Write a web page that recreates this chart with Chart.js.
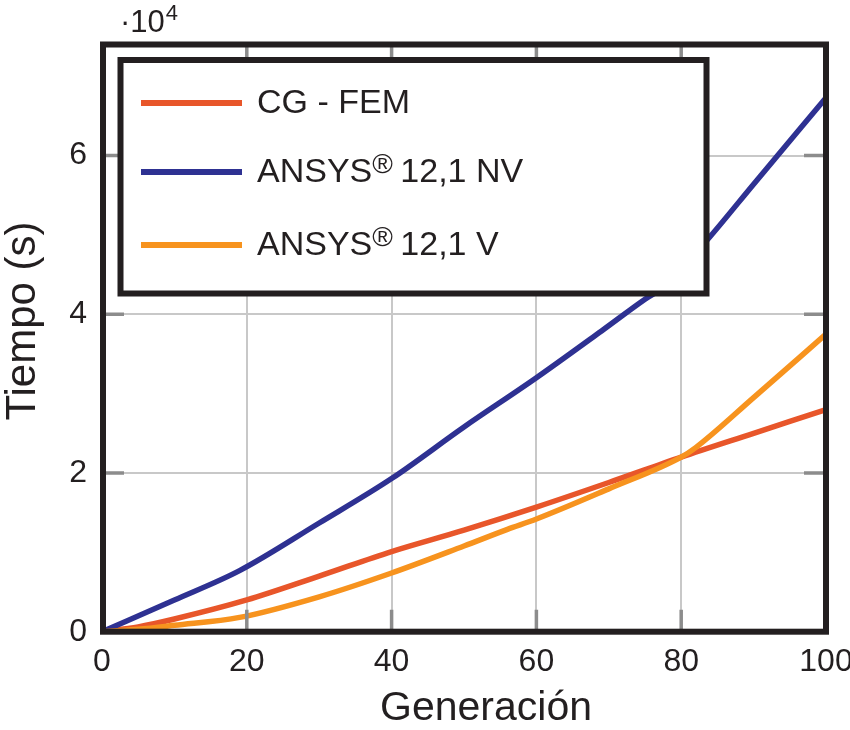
<!DOCTYPE html>
<html>
<head>
<meta charset="utf-8">
<script src="https://cdn.jsdelivr.net/npm/chart.js@4"></script>
<style>
  html, body { margin: 0; padding: 0; background: #ffffff; }
  #wrap { width: 850px; height: 730px; }
</style>
</head>
<body>
<div id="wrap"><canvas id="c" width="850" height="730"></canvas></div>
<script>
// ---- data (tiempo in units of 10^4 s) ----
const seriesLabels = ['CG - FEM', 'ANSYS® 12,1 NV', 'ANSYS® 12,1 V'];
const seriesColors = ['#e8562a', '#2e3192', '#f7931e'];
const genCG   = [0, 5, 10, 20, 30, 40, 50, 60, 70, 80, 90, 100];
const tiempoCG = [0, 0.06, 0.16, 0.40, 0.70, 1.01, 1.28, 1.57, 1.88, 2.20, 2.50, 2.80];
const genNV   = [0, 10, 19, 30, 40, 50, 60, 69, 75, 78, 84, 90, 100];
const tiempoNV = [0, 0.40, 0.77, 1.37, 1.93, 2.58, 3.20, 3.79, 4.19, 4.37, 4.98, 5.64, 6.73];
const genV    = [0, 5, 10, 19, 30, 40, 50, 56, 60, 70, 80, 82, 90, 100];
const tiempoV  = [0, 0.03, 0.08, 0.18, 0.44, 0.74, 1.08, 1.29, 1.42, 1.80, 2.20, 2.32, 2.95, 3.75];
const xTicks = [0, 20, 40, 60, 80, 100];
const yTicks = [0, 2, 4, 6];
const xTitle = 'Generación';
const yTitle = 'Tiempo (s)';

const FONT = "'Liberation Sans', Arial, Helvetica, sans-serif";
const INK = '#231f20';

function pts(xs, ys) { return xs.map((x, i) => ({ x: x, y: ys[i] })); }

const framePlugin = {
  id: 'frameAndLegend',
  afterDatasetsDraw(chart) {
    const ctx = chart.ctx;
    const a = chart.chartArea;
    const xs = chart.scales.x, ys = chart.scales.y;
    ctx.save();
    // inner tick marks
    ctx.strokeStyle = '#8c8c8c';
    ctx.lineWidth = 3.5;
    ctx.beginPath();
    xTicks.forEach(v => {
      if (v === xs.min || v === xs.max) return;
      const px = xs.getPixelForValue(v);
      ctx.moveTo(px, a.bottom); ctx.lineTo(px, a.bottom - 22);
      ctx.moveTo(px, a.top); ctx.lineTo(px, a.top + 22);
    });
    yTicks.forEach(v => {
      if (v === ys.min) return;
      const py = ys.getPixelForValue(v);
      ctx.moveTo(a.left, py); ctx.lineTo(a.left + 22, py);
      ctx.moveTo(a.right, py); ctx.lineTo(a.right - 22, py);
    });
    ctx.stroke();
    // frame
    ctx.strokeStyle = INK;
    ctx.lineWidth = 6;
    ctx.strokeRect(a.left + 1, a.top, a.right - a.left - 1, a.bottom - a.top);

    // axis titles
    ctx.fillStyle = INK;
    ctx.textBaseline = 'alphabetic';
    ctx.textAlign = 'center';
    ctx.font = '41px ' + FONT;
    ctx.fillText(xTitle, 486, 720);
    ctx.save();
    ctx.translate(35, 321);
    ctx.rotate(-Math.PI / 2);
    ctx.font = '42px ' + FONT;
    ctx.fillText(yTitle, 0, 0);
    ctx.restore();

    // legend box
    const lx = 120.5, ly = 60, lw = 586, lh = 233.5;
    ctx.fillStyle = '#ffffff';
    ctx.fillRect(lx, ly, lw, lh);
    ctx.strokeStyle = INK;
    ctx.lineWidth = 6;
    ctx.strokeRect(lx, ly, lw, lh);
    const rowY = [103, 172, 245];
    chart.data.datasets.forEach((ds, i) => {
      const y = rowY[i];
      ctx.strokeStyle = ds.borderColor;
      ctx.lineWidth = 6;
      ctx.beginPath();
      ctx.moveTo(141, y); ctx.lineTo(242, y);
      ctx.stroke();
      ctx.fillStyle = INK;
      ctx.textBaseline = 'alphabetic';
      ctx.textAlign = 'left';
      const base = y + 10;
      const label = ds.label;
      const idx = label.indexOf('®');
      ctx.font = '34px ' + FONT;
      if (idx < 0) {
        ctx.fillText(label, 257, base);
      } else {
        const pre = label.slice(0, idx);
        const post = label.slice(idx + 1);
        ctx.fillText(pre, 257, base);
        let x = 257 + ctx.measureText(pre).width;
        ctx.font = '28px ' + FONT;
        ctx.fillText('®', x, base - 9);
        x += ctx.measureText('®').width - 2;
        ctx.font = '34px ' + FONT;
        ctx.fillText(post, x, base);
      }
    });

    // exponent label
    ctx.fillStyle = INK;
    ctx.textAlign = 'left';
    ctx.textBaseline = 'alphabetic';
    ctx.font = '31px ' + FONT;
    ctx.fillText('·10', 120, 32);
    const w = ctx.measureText('·10').width;
    ctx.font = '22px ' + FONT;
    ctx.fillText('4', 120 + w + 1, 20);
    ctx.restore();
  }
};

new Chart(document.getElementById('c'), {
  type: 'line',
  data: {
    datasets: [
      { label: seriesLabels[0], data: pts(genCG, tiempoCG), borderColor: seriesColors[0], order: 3 },
      { label: seriesLabels[1], data: pts(genNV, tiempoNV), borderColor: seriesColors[1], order: 2 },
      { label: seriesLabels[2], data: pts(genV, tiempoV), borderColor: seriesColors[2], order: 1 }
    ]
  },
  options: {
    responsive: false,
    animation: false,
    devicePixelRatio: 1,
    layout: { padding: { left: 0, right: 24, top: 44.5, bottom: 0 } },
    elements: {
      line: { borderWidth: 5.5, cubicInterpolationMode: 'monotone', fill: false, borderCapStyle: 'round', borderJoinStyle: 'round' },
      point: { radius: 0, hoverRadius: 0 }
    },
    plugins: { legend: { display: false }, tooltip: { enabled: false } },
    scales: {
      x: {
        type: 'linear', min: 0, max: 100,
        afterFit(s) { s.height = 98.3; s.paddingRight = 0; s.paddingLeft = 0; },
        afterBuildTicks(s) { s.ticks = xTicks.map(v => ({ value: v })); },
        grid: { color: '#c8c8c8', lineWidth: 2, drawTicks: false },
        border: { display: false },
        ticks: { color: INK, font: { family: FONT, size: 32 }, padding: 11, maxRotation: 0, autoSkip: false },
        title: { display: false, text: xTitle }
      },
      y: {
        type: 'linear', min: 0, max: 7.4,
        afterFit(s) { s.width = 102; s.paddingTop = 0; s.paddingBottom = 0; },
        afterBuildTicks(s) { s.ticks = yTicks.map(v => ({ value: v })); },
        grid: { color: '#c8c8c8', lineWidth: 2, drawTicks: false },
        border: { display: false },
        ticks: { color: INK, font: { family: FONT, size: 32 }, padding: 15, autoSkip: false },
        title: { display: false, text: yTitle }
      }
    }
  },
  plugins: [framePlugin]
});
</script>
</body>
</html>
